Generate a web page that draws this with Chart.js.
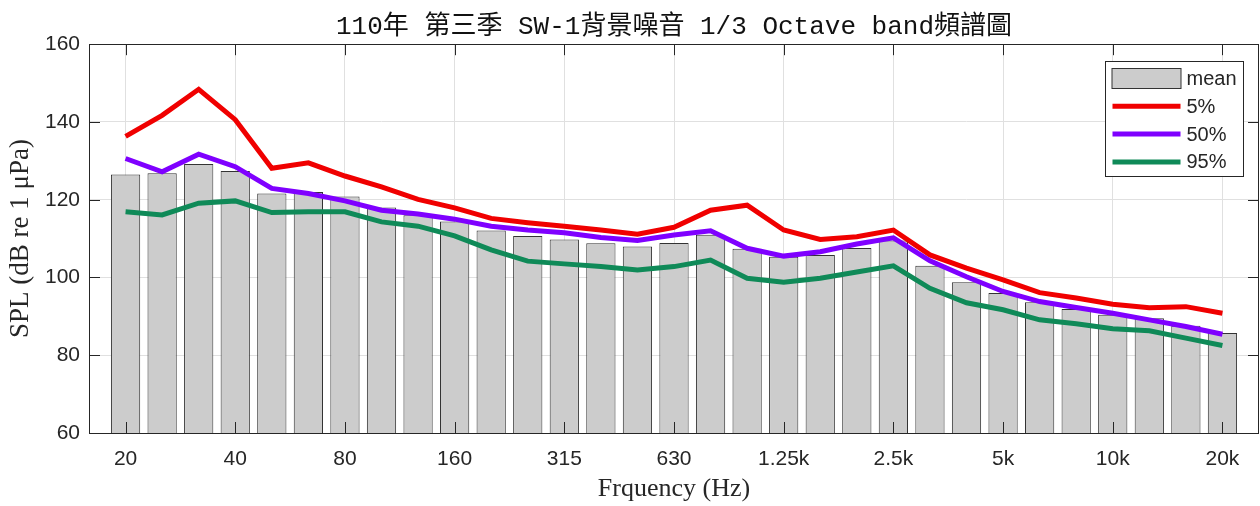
<!DOCTYPE html>
<html>
<head>
<meta charset="utf-8">
<script src="https://cdn.jsdelivr.net/npm/chart.js@4.4.1/dist/chart.umd.min.js"></script>
<style>
    html, body { margin: 0; padding: 0; background: #fff; }
    #wrap { width: 1260px; height: 506px; position: relative; }
</style>
</head>
<body>
<div id="wrap"><canvas id="spectrumChart"></canvas></div>
<script>
// 1/3 octave band centre labels, 20 Hz .. 20 kHz
const bands = ['20', '25', '31.5', '40', '50', '63', '80', '100', '125', '160', '200', '250',
    '315', '400', '500', '630', '800', '1k', '1.25k', '1.6k', '2k', '2.5k', '3.15k', '4k',
    '5k', '6.3k', '8k', '10k', '12.5k', '16k', '20k'];
const labelledBands = [0, 3, 6, 9, 12, 15, 18, 21, 24, 27, 30];

const meanSPL = [126.5, 126.8, 129.2, 127.4, 121.6, 122.0, 120.8, 118.0, 116.0, 114.4, 112.1,
    110.7, 109.8, 108.8, 108.0, 108.9, 111.0, 107.4, 105.3, 105.8, 107.6, 109.5, 103.0, 98.8,
    96.0, 93.6, 91.9, 90.4, 89.5, 87.6, 85.7];
const p5 = [136.3, 141.7, 148.4, 140.6, 128.1, 129.5, 126.1, 123.3, 120.1, 117.9, 115.2, 114.1,
    113.2, 112.2, 111.1, 112.9, 117.3, 118.6, 112.2, 109.8, 110.5, 112.2, 105.8, 102.4, 99.4,
    96.1, 94.7, 93.1, 92.2, 92.5, 90.8];
const p50 = [130.6, 127.2, 131.7, 128.5, 122.9, 121.6, 119.7, 117.3, 116.3, 115.0, 113.2, 112.2,
    111.5, 110.3, 109.5, 110.9, 112.0, 107.5, 105.5, 106.6, 108.6, 110.2, 104.3, 100.2, 96.4,
    93.8, 92.3, 90.8, 89.1, 87.4, 85.4];
const p95 = [116.9, 116.1, 119.1, 119.7, 116.7, 116.9, 116.9, 114.3, 113.2, 110.7, 107.1, 104.2,
    103.5, 102.8, 101.9, 102.8, 104.5, 99.8, 98.8, 99.8, 101.4, 103.0, 97.2, 93.5, 91.7, 89.1,
    88.1, 86.8, 86.3, 84.4, 82.5];
const yTicks = [60, 80, 100, 120, 140, 160];

const AXIS = '#262626';
const GRID = '#e0e0e0';
const BAR_EDGE = '#333333';
const SANS = '"Liberation Sans", Arial, sans-serif';
const SERIF = '"Liberation Serif", "Times New Roman", serif';

const toXY = arr => arr.map((v, i) => ({ x: i, y: v }));

const series = [
    { label: 'mean', kind: 'bar', data: meanSPL, color: '#cccccc' },
    { label: '5%', kind: 'line', data: p5, color: '#f00000' },
    { label: '50%', kind: 'line', data: p50, color: '#7f00ff' },
    { label: '95%', kind: 'line', data: p95, color: '#0f8a58' }
];

// MATLAB-ish frame: box, inward ticks on all four sides
const framePlugin = {
    id: 'frame',
    afterDatasetsDraw(chart) {
        const { ctx, chartArea: a, scales } = chart;
        const len = 11;
        ctx.save();
        ctx.strokeStyle = AXIS;
        ctx.lineWidth = 1;
        ctx.beginPath();
        scales.x.ticks.forEach(t => {
            const px = Math.round(scales.x.getPixelForValue(t.value)) + 0.5;
            ctx.moveTo(px, a.bottom); ctx.lineTo(px, a.bottom - len);
            ctx.moveTo(px, a.top); ctx.lineTo(px, a.top + len);
        });
        scales.y.ticks.forEach(t => {
            const py = Math.round(scales.y.getPixelForValue(t.value)) + 0.5;
            ctx.moveTo(a.left, py); ctx.lineTo(a.left + len, py);
            ctx.moveTo(a.right, py); ctx.lineTo(a.right - len, py);
        });
        ctx.stroke();
        ctx.strokeRect(Math.round(a.left) + 0.5, Math.round(a.top) + 0.5,
            Math.round(a.right - a.left) - 1, Math.round(a.bottom - a.top));
        ctx.restore();
    }
};

// legend box in the top-right corner of the axes
const legendPlugin = {
    id: 'boxLegend',
    afterDraw(chart) {
        const { ctx, chartArea: a } = chart;
        const bx = Math.round(a.right) - 153.5, by = Math.round(a.top) + 17.5;
        const bw = 138, bh = 115, rowH = 27.8;
        ctx.save();
        ctx.fillStyle = '#fff';
        ctx.fillRect(bx, by, bw, bh);
        ctx.strokeStyle = AXIS;
        ctx.lineWidth = 1;
        ctx.strokeRect(bx, by, bw, bh);
        ctx.font = '20px ' + SANS;
        ctx.textBaseline = 'middle';
        series.forEach((s, i) => {
            const cy = by + 17 + i * rowH;
            if (s.kind === 'bar') {
                ctx.fillStyle = s.color;
                ctx.fillRect(bx + 6.5, cy - 10, 69, 20);
                ctx.strokeStyle = BAR_EDGE;
                ctx.strokeRect(bx + 6.5, cy - 10, 69, 20);
            } else {
                ctx.strokeStyle = s.color;
                ctx.lineWidth = 5;
                ctx.beginPath();
                ctx.moveTo(bx + 7, cy);
                ctx.lineTo(bx + 75, cy);
                ctx.stroke();
                ctx.lineWidth = 1;
            }
            ctx.fillStyle = AXIS;
            ctx.fillText(s.label, bx + 81, cy + 1);
        });
        ctx.restore();
    }
};

const datasets = series.map((s, i) => s.kind === 'bar' ? {
    type: 'bar',
    label: s.label,
    data: toXY(s.data),
    backgroundColor: s.color,
    borderColor: BAR_EDGE,
    borderWidth: 1,
    borderSkipped: false,
    barPercentage: 0.8,
    categoryPercentage: 1.0,
    order: 10
} : {
    type: 'line',
    label: s.label,
    data: toXY(s.data),
    borderColor: s.color,
    backgroundColor: s.color,
    borderWidth: 5,
    pointRadius: 0,
    tension: 0,
    fill: false,
    order: 4 - i
});

new Chart(document.getElementById('spectrumChart'), {
    data: { datasets },
    options: {
        responsive: true,
        maintainAspectRatio: false,
        animation: false,
        layout: { padding: { right: 1 } },
        plugins: {
            legend: { display: false },
            tooltip: { enabled: false },
            title: {
                display: true,
                fullSize: false,
                text: '110年 第三季 SW-1背景噪音 1/3 Octave band頻譜圖',
                color: '#111',
                font: { family: '"Liberation Mono", "Noto Sans CJK TC", monospace', size: 26, weight: 'normal', lineHeight: 1.2 },
                padding: { top: 12, bottom: 1 }
            }
        },
        scales: {
            x: {
                type: 'linear',
                min: -1,
                max: 31,
                offset: false,
                afterBuildTicks: scale => { scale.ticks = labelledBands.map(v => ({ value: v })); },
                afterFit: scale => { scale.height = 73; },
                ticks: {
                    callback: v => bands[v],
                    color: AXIS,
                    font: { family: SANS, size: 21 },
                    padding: 14,
                    maxRotation: 0,
                    autoSkip: false
                },
                grid: { color: GRID, drawTicks: false, offset: false },
                border: { display: false },
                title: {
                    display: true,
                    text: 'Frquency (Hz)',
                    color: AXIS,
                    font: { family: SERIF, size: 26, lineHeight: 1.2 },
                    padding: { top: 0, bottom: 1 }
                }
            },
            y: {
                min: 60,
                max: 160,
                afterBuildTicks: scale => { scale.ticks = yTicks.map(v => ({ value: v })); },
                afterFit: scale => { scale.width = 89; },
                ticks: {
                    color: AXIS,
                    font: { family: SANS, size: 21 },
                    padding: 9
                },
                grid: { color: GRID, drawTicks: false },
                border: { display: false },
                title: {
                    display: true,
                    text: 'SPL (dB re 1 μPa)',
                    color: AXIS,
                    font: { family: SERIF, size: 27, lineHeight: 1.2 },
                    padding: { top: 5, bottom: 0 }
                }
            }
        }
    },
    plugins: [framePlugin, legendPlugin]
});
</script>
</body>
</html>
